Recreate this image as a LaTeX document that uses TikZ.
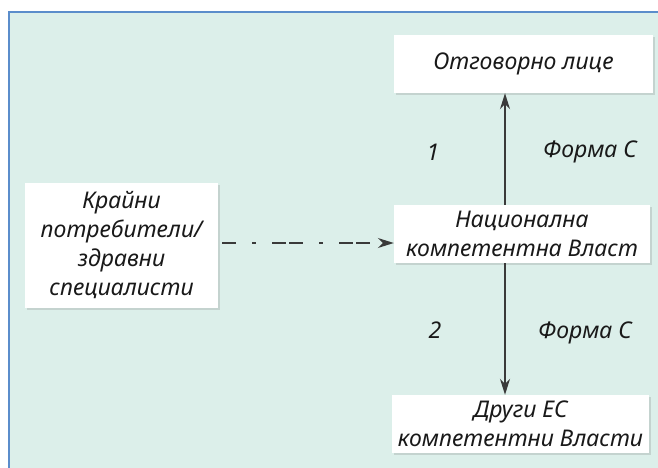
\documentclass[tikz,border=0pt]{standalone}
\usepackage{fontspec}
\setmainfont{Noto Sans}[Script=Cyrillic,Language=Bulgarian]
\usepackage{tikz}
\usetikzlibrary{arrows.meta,shadows}
\definecolor{panelbg}{HTML}{DCEFEA}
\definecolor{panelline}{HTML}{5B8DCB}
\definecolor{arrowgrey}{HTML}{3A3A3A}

\begin{document}
\begin{tikzpicture}[x=1pt,y=-1pt,>={Stealth[length=16pt,width=10pt]}]
\tikzset{box/.style={fill=white,inner sep=0pt,align=center,
    font=\fontsize{23}{29}\selectfont\itshape,text=black!90,
    drop shadow={opacity=0.25,shadow xshift=2pt,shadow yshift=-2pt}},
  lbl/.style={font=\fontsize{23}{29}\selectfont\itshape,text=black!90}};
\useasboundingbox (0,0) rectangle (658,468);
% panel
    \fill[panelbg] (9,12) rectangle (658,468);
    \draw[panelline,line width=2pt] (9,468) -- (9,12) -- (658,12);
% nodes
    \node[box,minimum width=259pt,minimum height=58pt] (resp) at (523.5,64) {Отговорно лице};
    \node[box,minimum width=256pt,minimum height=58pt] (nca) at (522,234) {Национална\\компетентна Власт};
    \node[box,minimum width=257pt,minimum height=58pt] (euca) at (520.5,424) {Други ЕС\\компетентни Власти};
    \node[box,minimum width=193pt,minimum height=125pt] (users) at (121.5,245.5) {Крайни\\потребители/\\здравни\\специалисти};
    \node[lbl] (n1) at (433,152) {1};
    \node[lbl] (f1) at (590,152) {Форма С};
    \node[lbl] (n2) at (435,330) {2};
    \node[lbl] (f2) at (585,333) {Форма С};
    \coordinate (ax) at (505,0);
    \coordinate (dy) at (0,243);
% edges
    \draw[->,arrowgrey,line width=1.6pt] (nca.north -| ax) -- (resp.south -| ax);
    \draw[->,arrowgrey,line width=1.6pt] (nca.south -| ax) -- (euca.north -| ax);
    \draw[->,arrowgrey,line width=1.6pt,dash pattern=on 14pt off 16pt on 4pt off 16pt on 14pt off 3pt]
        (users.east |- dy) ++(4,0) -- (nca.west |- dy);
\end{tikzpicture}
\end{document}
